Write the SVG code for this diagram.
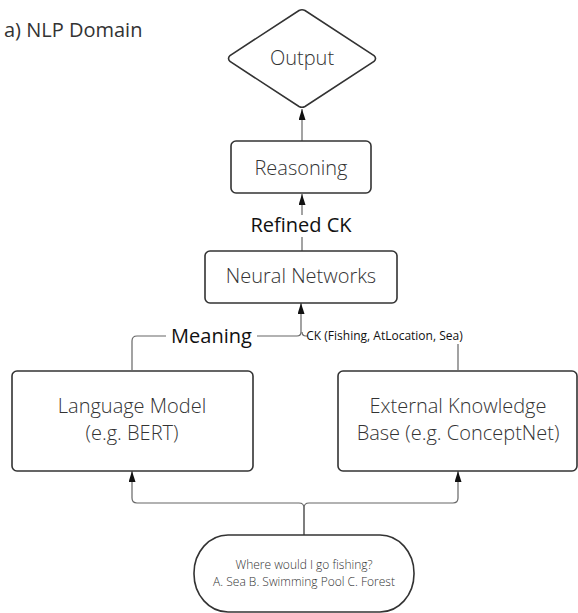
<svg xmlns="http://www.w3.org/2000/svg" width="578" height="613" viewBox="0 0 578 613">
<defs>
<marker id="arr" viewBox="0 0 11 7" refX="11" refY="3.5" markerWidth="11" markerHeight="7" markerUnits="userSpaceOnUse" orient="auto">
<path d="M0,0 L11,3.5 L0,7 Z" fill="#111"/>
</marker>
<style>
text{font-family:"Open Sans","Liberation Sans",sans-serif;fill:#333;text-anchor:middle;font-weight:300}
.box{fill:#fff;stroke:#333;stroke-width:1.6}
.c{fill:none;stroke:#666;stroke-width:1.2}
.lbl{fill:#111;font-weight:400}
</style>
</defs>
<rect width="578" height="613" fill="#fff"/>
<text x="4" y="37" font-size="20" style="text-anchor:start;font-weight:400">a) NLP Domain</text>

<g id="connectors">
<path class="c" d="M302 141 V109" marker-end="url(#arr)"/>
<path class="c" d="M302 251 V194" marker-end="url(#arr)"/>
<path class="c" d="M132 370 V341 Q132 336 137 336 H297 Q301 336 301 332 V303" marker-end="url(#arr)"/>
<path class="c" d="M458 370 V336 H306 Q302 336 302 332"/>
<path class="c" d="M304 535 V508 Q304 503 299 503 H137 Q132 503 132 498 V471" marker-end="url(#arr)"/>
<path class="c" d="M304 535 V508 Q304 503 309 503 H453 Q458 503 458 498 V471" marker-end="url(#arr)"/>
<rect x="248" y="215" width="107" height="22" fill="#fff"/>
<text x="301" y="232" font-size="20" class="lbl">Refined CK</text>
<rect x="166" y="324" width="91" height="24" fill="#fff"/>
<text x="211.5" y="343" font-size="20" class="lbl">Meaning</text>
<rect x="308" y="328" width="153" height="16" fill="#fff"/>
<text x="384.5" y="340" font-size="12" class="lbl">CK (Fishing, AtLocation, Sea)</text>
</g>

<g id="output">
<path class="box" d="M299 10.5 Q302 9 305 10.5 L374 55.5 Q377 58.5 374 61.5 L305 106.5 Q302 108 299 106.5 L230 61.5 Q227 58.5 230 55.5 Z"/>
<text x="302" y="65" font-size="20">Output</text>
</g>

<g id="reasoning">
<rect class="box" x="231" y="141" width="140" height="52" rx="5"/>
<text x="301" y="174.5" font-size="20">Reasoning</text>
</g>

<g id="neural-networks">
<rect class="box" x="205" y="251" width="192" height="52" rx="5"/>
<text x="301" y="283" font-size="20">Neural Networks</text>
</g>

<g id="language-model">
<rect class="box" x="12" y="371" width="241" height="100" rx="5"/>
<text x="132" y="413" font-size="20">Language Model</text>
<text x="132" y="440" font-size="20">(e.g. BERT)</text>
</g>

<g id="knowledge-base">
<rect class="box" x="338" y="371" width="239" height="100" rx="5"/>
<text x="458" y="413" font-size="20">External Knowledge</text>
<text x="458" y="440" font-size="20">Base (e.g. ConceptNet)</text>
</g>

<g id="question">
<rect class="box" x="194" y="535" width="220" height="77" rx="34" ry="38"/>
<text x="304" y="569" font-size="12">Where would I go fishing?</text>
<text x="304" y="586" font-size="12">A. Sea B. Swimming Pool C. Forest</text>
</g>
</svg>
